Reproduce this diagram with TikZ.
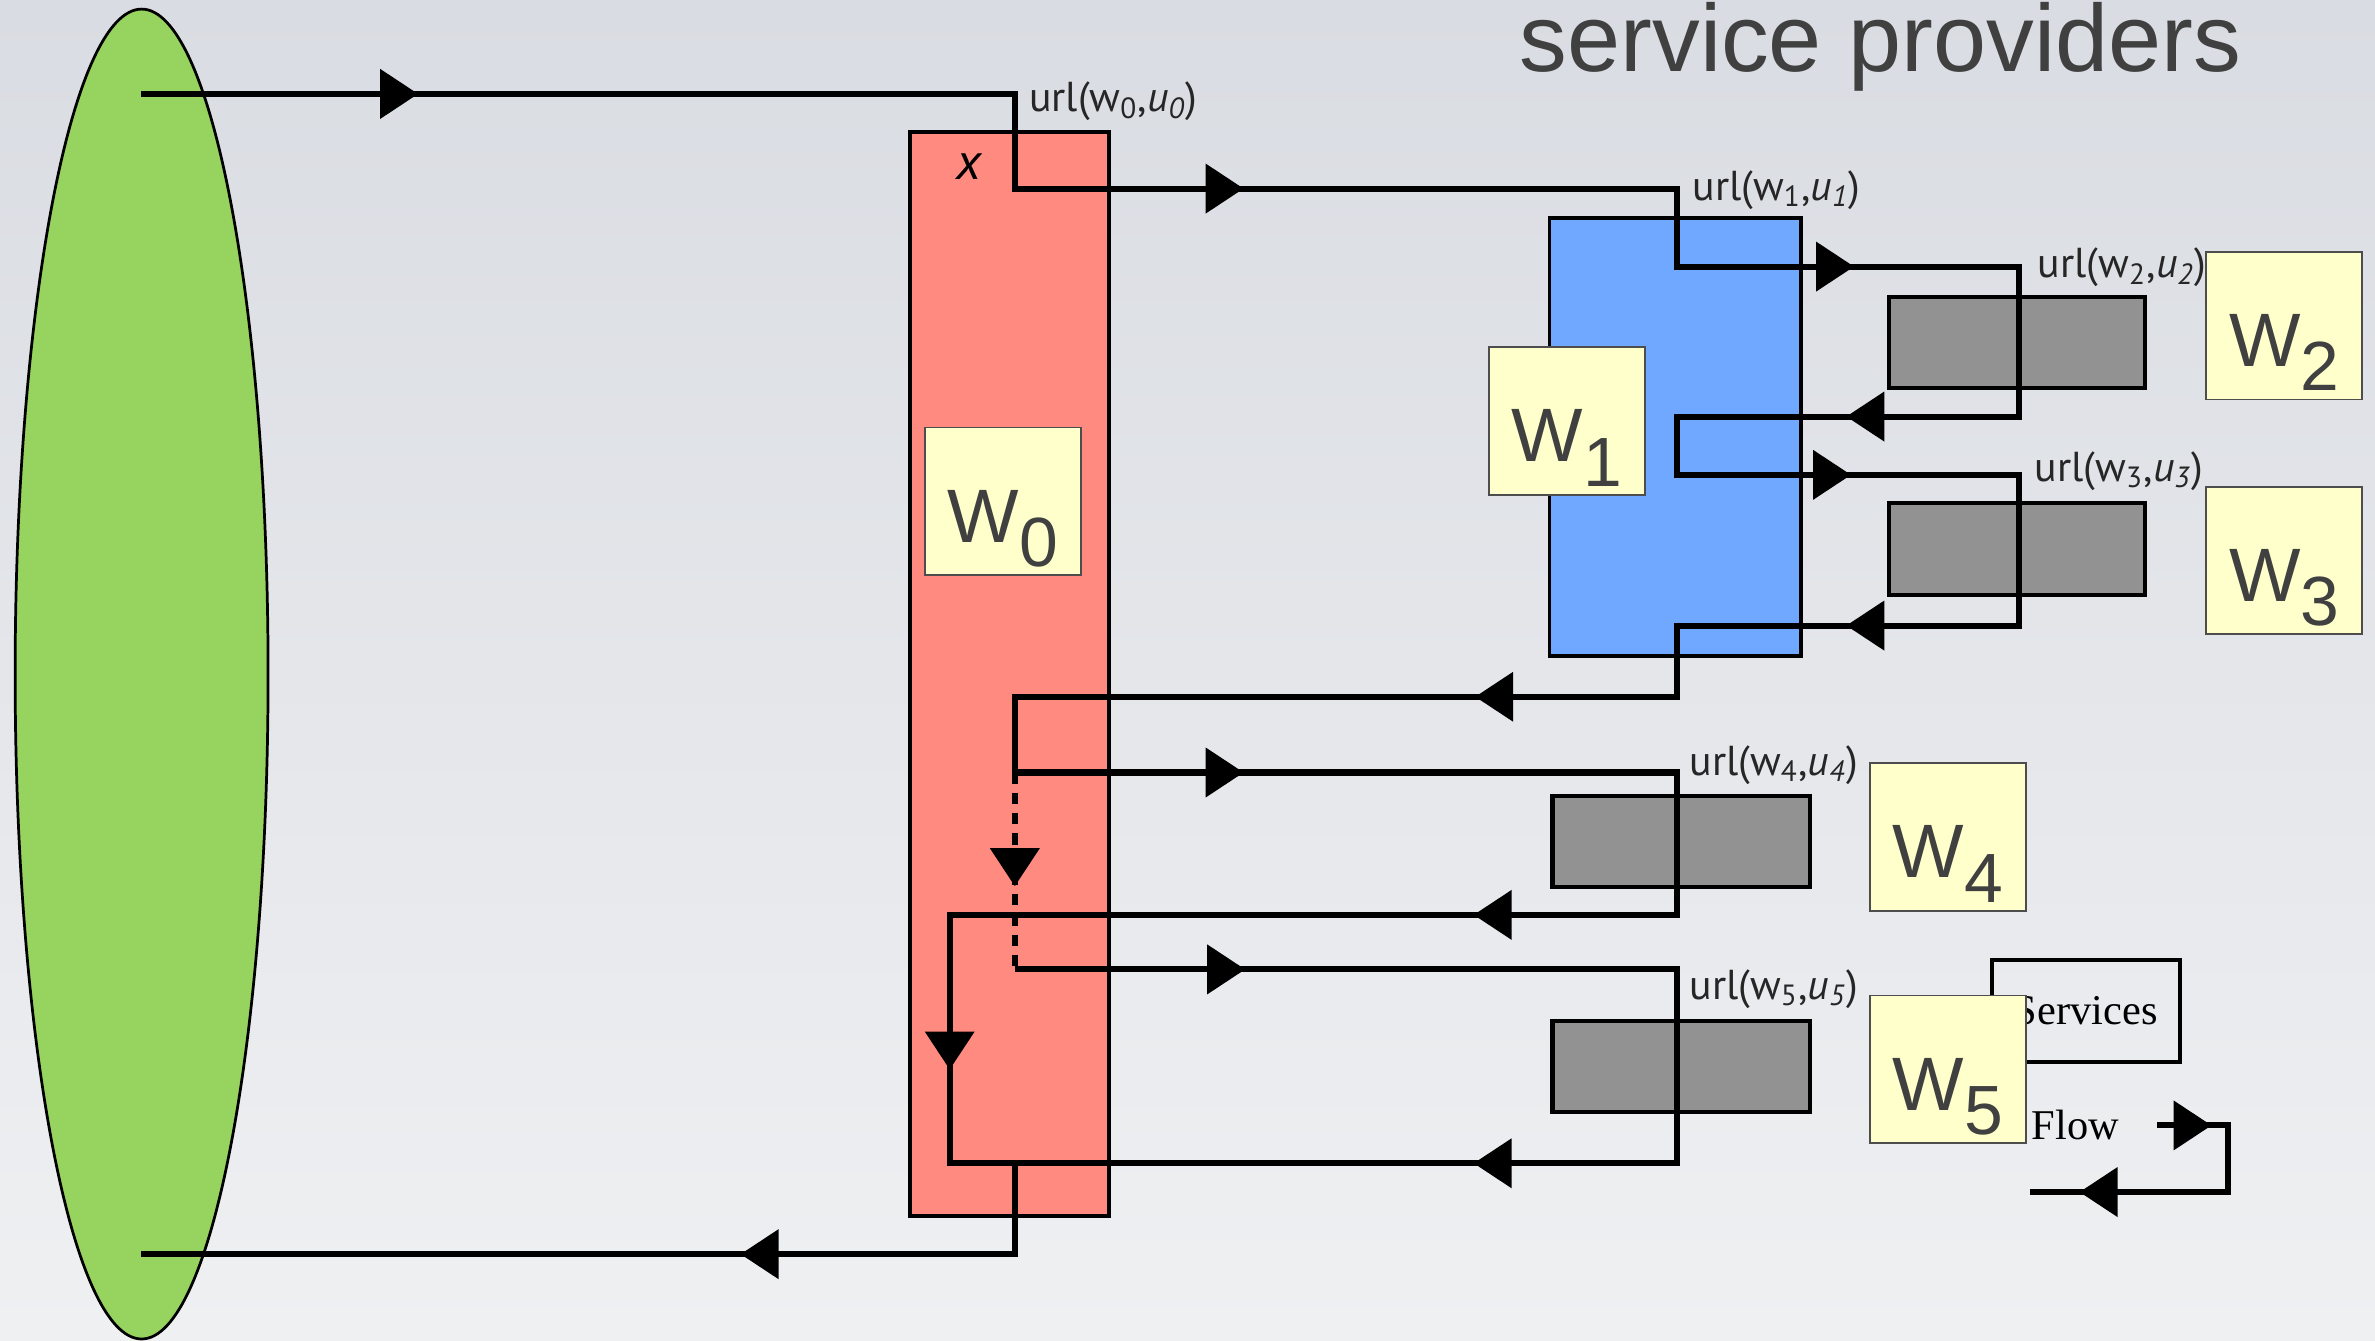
\documentclass[tikz,border=0pt]{standalone}
\usepackage{fontspec}
\setmainfont{Liberation Sans}
\newfontfamily\labelfont{PT Sans}
\newfontfamily\legendfont{Liberation Serif}
\usetikzlibrary{shapes.geometric}

\definecolor{bgtop}{HTML}{D9DCE2}
\definecolor{bgmid}{HTML}{E9EAED}
\definecolor{bgbot}{HTML}{EFF0F2}
\definecolor{clientgreen}{HTML}{97D35F}
\definecolor{wzero}{HTML}{FF8A80}
\definecolor{wone}{HTML}{70A7FF}
\definecolor{provgray}{HTML}{929292}
\definecolor{tagyellow}{HTML}{FFFFCC}
\definecolor{tagedge}{HTML}{4D4D4D}
\definecolor{inkgray}{HTML}{404040}

% big "W_n" tag text, baseline pushed below the tag centre
\newcommand\wtag[1]{\raisebox{-13.5pt}[0pt][0pt]{\fontsize{25pt}{25pt}\selectfont W\raisebox{-8pt}{\fontsize{23pt}{23pt}\selectfont #1}}}
% url(w_n,u_n) annotation
\newcommand\urlof[1]{url(w\textsubscript{#1},\textit{u}\textsubscript{\textit{#1}})}

\begin{document}
\begin{tikzpicture}[x=0.5pt,y=-0.5pt,
  flow/.style={line width=2pt, line join=miter},
  dotflow/.style={line width=2pt, dash pattern=on 3.7pt off 3pt},
  svcbox/.style={draw, line width=1.3pt, inner sep=0},
  provider/.style={draw, line width=1.4pt, fill=provgray, minimum width=84.5pt, minimum height=30pt, inner sep=0},
  tag/.style={draw=tagedge, line width=0.6pt, fill=tagyellow, minimum width=51.5pt, minimum height=48.75pt, inner sep=0, text=inkgray},
  urllabel/.style={anchor=west, inner sep=0, text=black!85, font=\labelfont\fontsize{13.8pt}{13.8pt}\selectfont},
  tipR/.pic={\fill (0,0) -- (-25,-16.5) -- (-25,16.5) -- cycle;},
  tipL/.pic={\fill (0,0) -- (25,-16.5) -- (25,16.5) -- cycle;},
  tipD/.pic={\fill (0,0) -- (-16.5,-25) -- (16.5,-25) -- cycle;},
]
\useasboundingbox (0,0) rectangle (1568,885);
\shade[top color=bgtop, middle color=bgmid, bottom color=bgbot] (0,0) rectangle (1568,885);

% client
\node[draw, ellipse, fill=clientgreen, line width=0.9pt, minimum width=83.5pt, minimum height=439pt, inner sep=0] (client) at (93.5,445) {};

% composite services
\node[svcbox, fill=wzero, minimum width=65.5pt, minimum height=358pt] (w0) at (666.5,445) {};
\node[svcbox, fill=wone, minimum width=83pt, minimum height=144.5pt] (w1) at (1106,288.5) {};

% atomic providers
\node[provider] (w2) at (1331.5,226) {};
\node[provider, minimum height=30.5pt] (w3) at (1331.5,362.5) {};
\node[provider, minimum width=85pt] (w4) at (1110,555.5) {};
\node[provider, minimum width=85pt] (w5) at (1110,704) {};

% legend box
\node[svcbox, minimum width=62pt, minimum height=33.5pt, font=\legendfont\fontsize{14pt}{14pt}\selectfont] (legend) at (1377,667.5) {Services};

% connectors
\coordinate (start) at (93,62);
\coordinate (finish) at (93,828);
\draw[flow] (start) -- (670,62) -- (670,124.5) -- (1107,124.5) -- (1107,176)
  -- (1333,176) -- (1333,275) -- (1107,275) -- (1107,313.5) -- (1333,313.5)
  -- (1333,413) -- (1107,413) -- (1107,460) -- (670,460) -- (670,510)
  -- (1107,510) -- (1107,604) -- (627,604) -- (627,768) -- (670,768)
  -- (670,828) -- (finish);
\draw[flow] (670,640) -- (1107,640) -- (1107,768) -- (670,768);
\draw[dotflow] (670,510) -- (670,640);

\pic at (276,62) {tipR};
\pic at (821,124.5) {tipR};
\pic at (1224,176) {tipR};
\pic at (1219,275) {tipL};
\pic at (1222,313.5) {tipR};
\pic at (1219,413) {tipL};
\pic at (974,460) {tipL};
\pic at (821,510) {tipR};
\pic at (973,604) {tipL};
\pic at (670,585) {tipD};
\pic at (627,706) {tipD};
\pic at (822,640) {tipR};
\pic at (973,768) {tipL};
\pic at (489,828) {tipL};

% legend arrow
\node[anchor=base west, inner sep=0, font=\legendfont\fontsize{14pt}{14pt}\selectfont] (flowtxt) at (1341,752) {Flow};
\coordinate (legA) at (1424,743);
\coordinate (legB) at (1340,787);
\draw[flow] (legA) -- (1471,743) -- (1471,787) -- (legB);
\pic at (1460,743) {tipR};
\pic at (1373,787) {tipL};

% tags
\node[tag] (t0) at (662,331) {\wtag{0}};
\node[tag] (t1) at (1034.5,278) {\wtag{1}};
\node[tag] (t2) at (1508,215) {\wtag{2}};
\node[tag] (t3) at (1508,370) {\wtag{3}};
\node[tag] (t4) at (1286,552.5) {\wtag{4}};
\node[tag] (t5) at (1286,706) {\wtag{5}};

% annotations
\node[urllabel] (u0) at (679,67) {\urlof{0}};
\node[urllabel] (u1) at (1117,125.5) {\urlof{1}};
\node[urllabel] (u2) at (1345,176.5) {\urlof{2}};
\node[urllabel] (u3) at (1343,311) {\urlof{3}};
\node[urllabel] (u4) at (1115,505) {\urlof{4}};
\node[urllabel] (u5) at (1115,653) {\urlof{5}};
\node[font=\labelfont\itshape\fontsize{17pt}{17pt}\selectfont] (xvar) at (640,110) {x};

\node[anchor=base west, inner sep=0, text=inkgray, font=\fontsize{31.5pt}{31.5pt}\selectfont] (title) at (1003,47) {service providers};
\end{tikzpicture}
\end{document}
